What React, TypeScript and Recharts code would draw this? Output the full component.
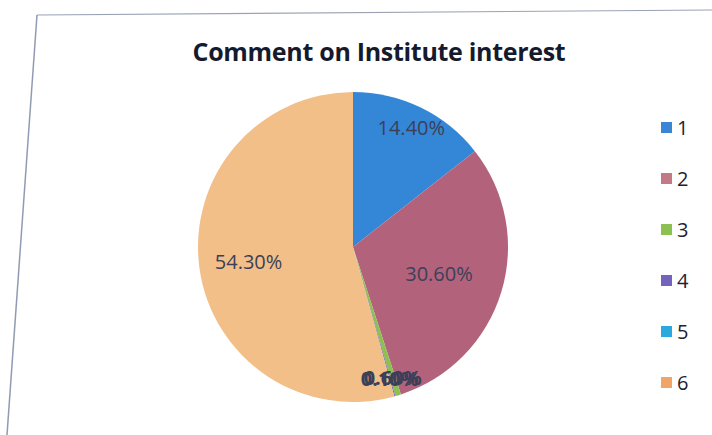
import { PieChart, Pie, Cell, Legend } from "recharts"

const categories = ["1", "2", "3", "4", "5", "6"]
const shares = [14.4, 30.6, 0.6, 0.1, 0, 54.3]
const sliceColors = ["#3487d6", "#b3627c", "#8cc152", "#7463bd", "#2ba9de", "#f3bf89"]
const legendColors = ["#3a86d4", "#c27a86", "#8cc152", "#7463bd", "#2ba9de", "#f0a46a"]

const data = categories.map((name, i) => ({ name, value: shares[i] }))

// how far out (fraction of radius) each data label sits
const labelDist = [0.86, 0.58, 0.88, 0.88, 0.88, 0.68]
const RADIAN = Math.PI / 180

function renderLabel(props: any) {
  const { cx, cy, midAngle, outerRadius, index, value } = props
  if (!value) return null
  const r = outerRadius * labelDist[index]
  const x = cx + r * Math.cos(-midAngle * RADIAN)
  const y = cy + r * Math.sin(-midAngle * RADIAN)
  return (
    <text
      x={x}
      y={y}
      fill="#3b4058"
      fontSize={20}
      fontFamily="'Open Sans', sans-serif"
      fontWeight={index === 2 || index === 3 ? 700 : 400}
      textAnchor="middle"
      dominantBaseline="central"
    >
      {value.toFixed(2) + "%"}
    </text>
  )
}

function LegendBox() {
  return (
    <div style={{ fontFamily: "'Open Sans', sans-serif", fontSize: 20, color: "#1e2233" }}>
      {categories.map((c, i) => (
        <div key={c} style={{ display: "flex", alignItems: "center", height: 51 }}>
          <span
            style={{ width: 11, height: 11, background: legendColors[i], marginRight: 5, display: "inline-block" }}
          />
          <span>{c}</span>
        </div>
      ))}
    </div>
  )
}

export default function App() {
  return (
    <div style={{ position: "absolute", left: 0, top: 0, width: 712, height: 435, background: "#fff" }}>
      <svg width={712} height={435} style={{ position: "absolute", left: 0, top: 0 }}>
        <line x1={37} y1={15} x2={712} y2={10} stroke="#9aa3b5" strokeWidth={1.2} />
        <line x1={37} y1={15} x2={7} y2={435} stroke="#8f9ab3" strokeWidth={1.5} />
      </svg>
      <div
        style={{
          position: "absolute",
          left: 0,
          width: 758,
          top: 34,
          textAlign: "center",
          fontFamily: "'Open Sans', sans-serif",
          fontWeight: 700,
          fontSize: 25,
          letterSpacing: -0.3,
          color: "#151a2c",
        }}
      >
        Comment on Institute interest
      </div>
      <div style={{ position: "absolute", left: 0, top: 0 }}>
        <PieChart width={712} height={435}>
          <Pie
            data={data}
            dataKey="value"
            nameKey="name"
            cx={348}
            cy={242}
            outerRadius={155}
            startAngle={90}
            endAngle={-270}
            stroke="none"
            label={renderLabel}
            labelLine={false}
            isAnimationActive={false}
          >
            {data.map((d, i) => (
              <Cell key={d.name} fill={sliceColors[i]} />
            ))}
          </Pie>
          <Legend
            layout="vertical"
            content={<LegendBox />}
            wrapperStyle={{ position: "absolute", left: 661, top: 102, width: 40 }}
          />
        </PieChart>
      </div>
    </div>
  )
}
